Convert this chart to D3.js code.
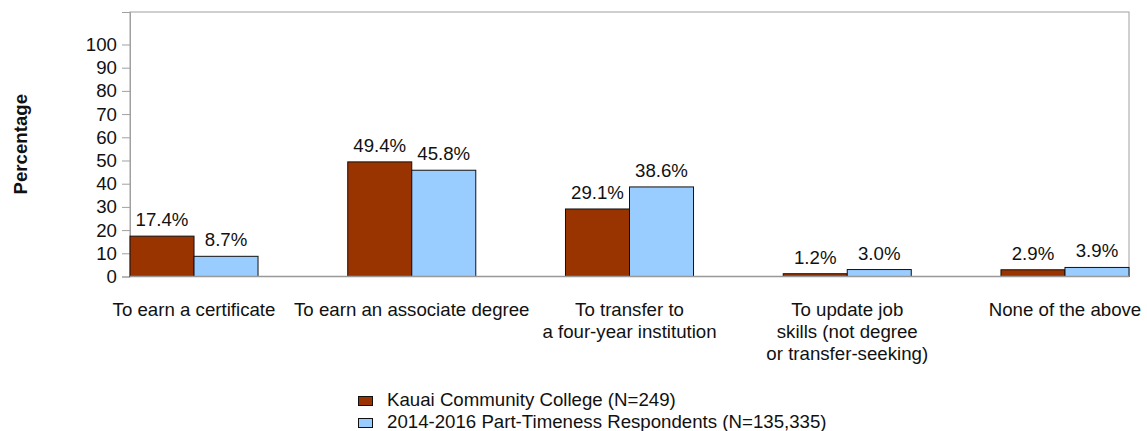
<!DOCTYPE html>
<html>
<head>
<meta charset="utf-8">
<script src="https://cdn.jsdelivr.net/npm/d3@7"></script>
<style>
  body { margin: 0; background: #fff; }
  svg text { font-family: Arial, "Liberation Sans", sans-serif; fill: #111; }
</style>
</head>
<body>
<div id="chart"></div>
<script>
const categories = [
  ['To earn a certificate'],
  ['To earn an associate degree'],
  ['To transfer to', 'a four-year institution'],
  ['To update job', 'skills (not degree', 'or transfer-seeking)'],
  ['None of the above'],
];
const seriesNames = [
  'Kauai Community College (N=249)',
  '2014-2016 Part-Timeness Respondents (N=135,335)',
];
const kauai = [17.4, 49.4, 29.1, 1.2, 2.9];
const cohort = [8.7, 45.8, 38.6, 3.0, 3.9];
const yTicks = [0, 10, 20, 30, 40, 50, 60, 70, 80, 90, 100];
const colors = ['#993300', '#99ccff'];

const margin = { top: 12, right: 18, bottom: 154.5, left: 130 };
const fullW = 1147;
const fullH = 431;
const width = fullW - margin.left - margin.right;
const height = fullH - margin.top - margin.bottom;
const fontSize = '18.67px';

const svg = d3.select('#chart').append('svg')
  .attr('width', fullW)
  .attr('height', fullH);

const g = svg.append('g')
  .attr('transform', `translate(${margin.left},${margin.top})`);

const keys = categories.map((d, i) => i);
const xScale = d3.scaleBand()
  .domain(keys)
  .range([0, width])
  .paddingInner(0.412)
  .paddingOuter(0);
const xSub = d3.scaleBand()
  .domain([0, 1])
  .range([0, xScale.bandwidth()]);
const yScale = d3.scaleLinear()
  .domain([0, 114])
  .range([height, 0]);

// frame
g.append('rect')
  .attr('x', 0).attr('y', 0)
  .attr('width', width).attr('height', height)
  .attr('fill', 'none')
  .attr('stroke', '#a0a0a0')
  .attr('stroke-width', 1);

// y axis
const yAxis = g.append('g')
  .attr('class', 'y axis')
  .call(d3.axisLeft(yScale).tickValues(yTicks).tickSize(8).tickPadding(5));
yAxis.select('.domain').attr('stroke', '#a0a0a0');
yAxis.selectAll('.tick line').attr('stroke', '#a0a0a0');
yAxis.selectAll('.tick text')
  .style('font-size', fontSize)
  .style('font-family', 'Arial, "Liberation Sans", sans-serif')
  .attr('fill', '#111');

svg.append('text')
  .attr('transform', `translate(27,${margin.top + height / 2}) rotate(-90)`)
  .attr('text-anchor', 'middle')
  .style('font-size', fontSize)
  .style('font-weight', 'bold')
  .text('Percentage');

// bars
const series = [kauai, cohort];
series.forEach((vals, s) => {
  g.append('g').selectAll('rect')
    .data(vals)
    .enter().append('rect')
    .attr('x', (d, i) => xScale(i) + xSub(s))
    .attr('y', d => yScale(d))
    .attr('width', xSub.bandwidth())
    .attr('height', d => height - yScale(d))
    .attr('fill', colors[s])
    .attr('stroke', '#111')
    .attr('stroke-width', 1);

  g.append('g').selectAll('text')
    .data(vals)
    .enter().append('text')
    .attr('x', (d, i) => xScale(i) + xSub(s) + xSub.bandwidth() / 2)
    .attr('y', d => yScale(d) - 10)
    .attr('text-anchor', 'middle')
    .style('font-size', fontSize)
    .text(d => `${d.toFixed(1)}%`);
});

// baseline
g.append('line')
  .attr('x1', 0).attr('x2', width)
  .attr('y1', height).attr('y2', height)
  .attr('stroke', '#999')
  .attr('stroke-width', 1.5);

// category labels
const labels = g.append('g').selectAll('text')
  .data(categories)
  .enter().append('text')
  .attr('text-anchor', 'middle')
  .style('font-size', fontSize)
  .attr('transform', (d, i) => `translate(${xScale(i) + xScale.bandwidth() / 2},${height + 39.5})`);
labels.selectAll('tspan')
  .data(d => d)
  .enter().append('tspan')
  .attr('x', 0)
  .attr('y', (d, i) => i * 22)
  .text(d => d);

// legend
const legend = svg.append('g')
  .attr('transform', 'translate(358,396)');
const items = legend.selectAll('g')
  .data(seriesNames)
  .enter().append('g')
  .attr('transform', (d, i) => `translate(0,${i * 22})`);
items.append('rect')
  .attr('x', 0.5).attr('y', 0.5)
  .attr('width', 14).attr('height', 9)
  .attr('fill', (d, i) => colors[i])
  .attr('stroke', '#111')
  .attr('stroke-width', 1);
items.append('text')
  .attr('x', 29)
  .attr('y', 10)
  .style('font-size', fontSize)
  .text(d => d);
</script>
</body>
</html>
